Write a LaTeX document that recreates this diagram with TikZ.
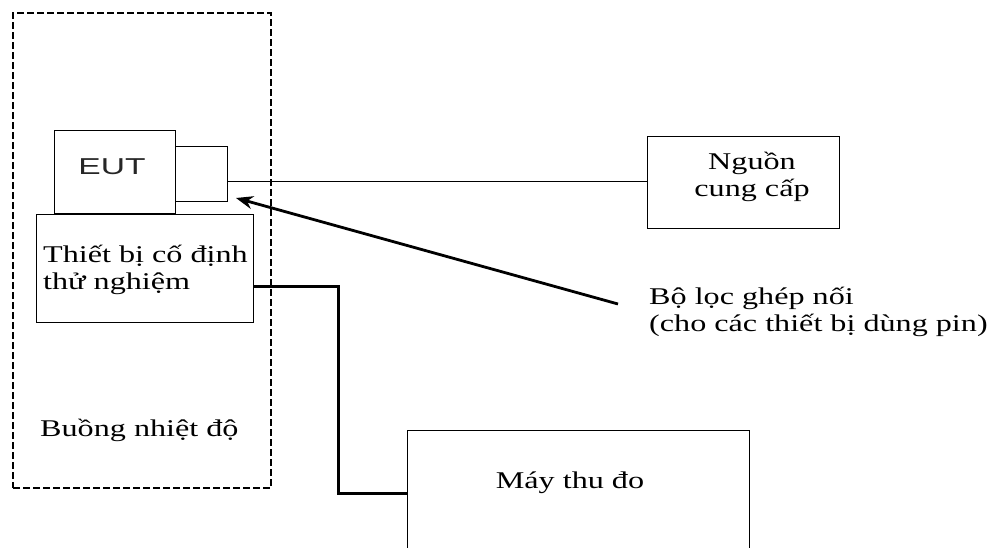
\documentclass[tikz,border=0pt]{standalone}
\usepackage{fontspec}
\setmainfont[FakeStretch=1.34]{Liberation Serif}
\newfontfamily\eutfont[FakeStretch=1.46]{Liberation Sans}
\usetikzlibrary{arrows.meta}
\begin{document}
\begin{tikzpicture}[x=1pt,y=-1pt,
  box/.style={draw, line width=1pt, inner sep=0pt, outer sep=0pt},
  lbl/.style={font=\fontsize{24}{27}\selectfont, inner sep=0pt, align=left},
  thick wire/.style={line width=3pt},
  thin wire/.style={line width=1pt}]
\useasboundingbox (0,0) rectangle (999,548);
\fill[white] (0,0) rectangle (999,548);
\clip (0,0) rectangle (999,548);
% dashed chamber
\node[draw, line width=2.2pt, dash pattern=on 7pt off 3pt, inner sep=0pt,
  minimum width=258pt, minimum height=475pt, anchor=north west] (chamber) at (12,12) {};
% EUT and connector box
\node[box, minimum width=121pt, minimum height=83pt, anchor=north west] (eut) at (54,131) {};
\node[font=\eutfont\fontsize{23}{26}\selectfont, text=black!85, inner sep=0pt, anchor=base] (euttext) at (112,175) {EUT};
\node[box, minimum width=52pt, minimum height=55pt, anchor=north west] (conn) at (175,147) {};
% fixture
\node[box, minimum width=217pt, minimum height=107pt, anchor=north west] (fix) at (36,215) {};
\node[lbl, anchor=base west] (fixtext) at (43,290) {Thiết bị cố định\\thử nghiệm};
% chamber label
\node[lbl, anchor=base west] (chlabel) at (40,436) {Buồng nhiệt độ};
% power supply
\node[box, minimum width=192pt, minimum height=92pt, anchor=north west] (psu) at (647,137) {};
\node[lbl, align=center, anchor=base] (psutext) at (752,197) {Nguồn\\cung cấp};
% receiver
\node[box, minimum width=342pt, minimum height=160pt, anchor=north west] (rx) at (407,430) {};
\node[lbl, anchor=base] (rxtext) at (570,488) {Máy thu đo};
% filter label
\node[lbl, anchor=base west] (filt) at (649,331) {Bộ lọc ghép nối\\(cho các thiết bị dùng pin)};
\coordinate (tail) at (618,304);
\coordinate (tip) at (236,198);
% connections
\draw[thin wire] (conn.east |- 0,182) -- (psu.west |- 0,182);
\draw[line width=2.8pt, -{Stealth[length=17pt,width=13pt]}] (tail) -- (tip);
\draw[thick wire] (fix.east |- 0,286) -- (338,286) -- (338,493) -- (rx.west |- 0,493);
\end{tikzpicture}
\end{document}
